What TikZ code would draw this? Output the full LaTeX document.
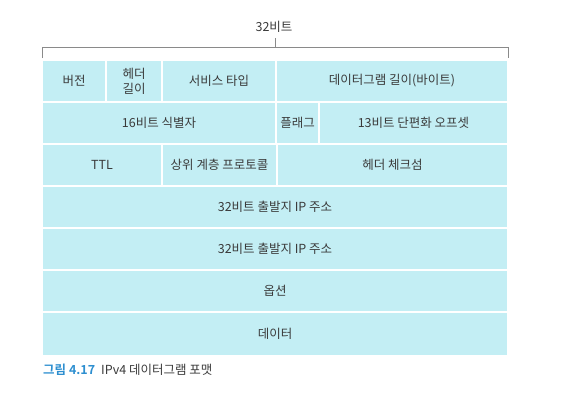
\documentclass[tikz,border=0pt]{standalone}
\usepackage{fontspec}
\setmainfont{Noto Sans CJK KR}
\newfontfamily\krbold{Noto Sans CJK KR Bold}
\definecolor{cellcyan}{HTML}{C3EEF4}
\definecolor{txtgray}{HTML}{3A3A3A}
\definecolor{capblue}{HTML}{2E8FD0}
\definecolor{brkgray}{HTML}{8A8A8A}
\begin{document}
\begin{tikzpicture}[x=1pt,y=-1pt,
  cell/.style={fill=cellcyan,draw=white,line width=2pt,inner sep=0pt,
    font=\fontsize{12.5}{13}\selectfont,text=txtgray,align=center},
  lbl/.style={font=\fontsize{12.5}{13}\selectfont,text=txtgray,inner sep=0pt},
  brk/.style={draw=brkgray,line width=0.8pt}]
\useasboundingbox (0,0) rectangle (581,405);
% bracket
\coordinate (bl) at (42,58);
\coordinate (blt) at (42,47);
\coordinate (brt) at (508,47);
\coordinate (br) at (508,58);
\coordinate (tb) at (275,47);
\coordinate (tt) at (275,38);
\draw[brk] (bl) -- (blt) -- (brt) -- (br);
\draw[brk] (tb) -- (tt);
\node[lbl] (bits) at (274,27) {32비트};
% row 1
\node[cell,minimum width=64,minimum height=42] (ver) at (74,81) {버전};
\node[cell,minimum width=56,minimum height=42] (hlen) at (134,81) {헤더\\[2pt]길이};
\node[cell,minimum width=114,minimum height=42] (tos) at (219,81) {서비스 타입};
\node[cell,minimum width=232,minimum height=42] (dlen) at (392,81) {데이터그램 길이(바이트)};
% row 2
\node[cell,minimum width=234,minimum height=42] (ident) at (159,123) {16비트 식별자};
\node[cell,minimum width=43,minimum height=42] (flag) at (297.5,123) {플래그};
\node[cell,minimum width=189,minimum height=42] (frag) at (413.5,123) {13비트 단편화 오프셋};
% row 3
\node[cell,minimum width=120,minimum height=42] (ttl) at (102,165) {TTL};
\node[cell,minimum width=115,minimum height=42] (proto) at (219.5,165) {상위 계층 프로토콜};
\node[cell,minimum width=231,minimum height=42] (csum) at (392.5,165) {헤더 체크섬};
% rows 4-7
\node[cell,minimum width=466,minimum height=42] (src) at (275,207) {32비트 출발지 IP 주소};
\node[cell,minimum width=466,minimum height=42] (dst) at (275,249) {32비트 출발지 IP 주소};
\node[cell,minimum width=466,minimum height=42] (opt) at (275,291) {옵션};
\node[cell,minimum width=466,minimum height=44] (data) at (275,334) {데이터};
% caption
\node[anchor=west,inner sep=0pt,font=\fontsize{12.5}{13}\selectfont,text=txtgray] (cap) at (43,370)
  {\textcolor{capblue}{\krbold 그림 4.17}\hspace{6pt}IPv4 데이터그램 포맷};
\end{tikzpicture}
\end{document}
